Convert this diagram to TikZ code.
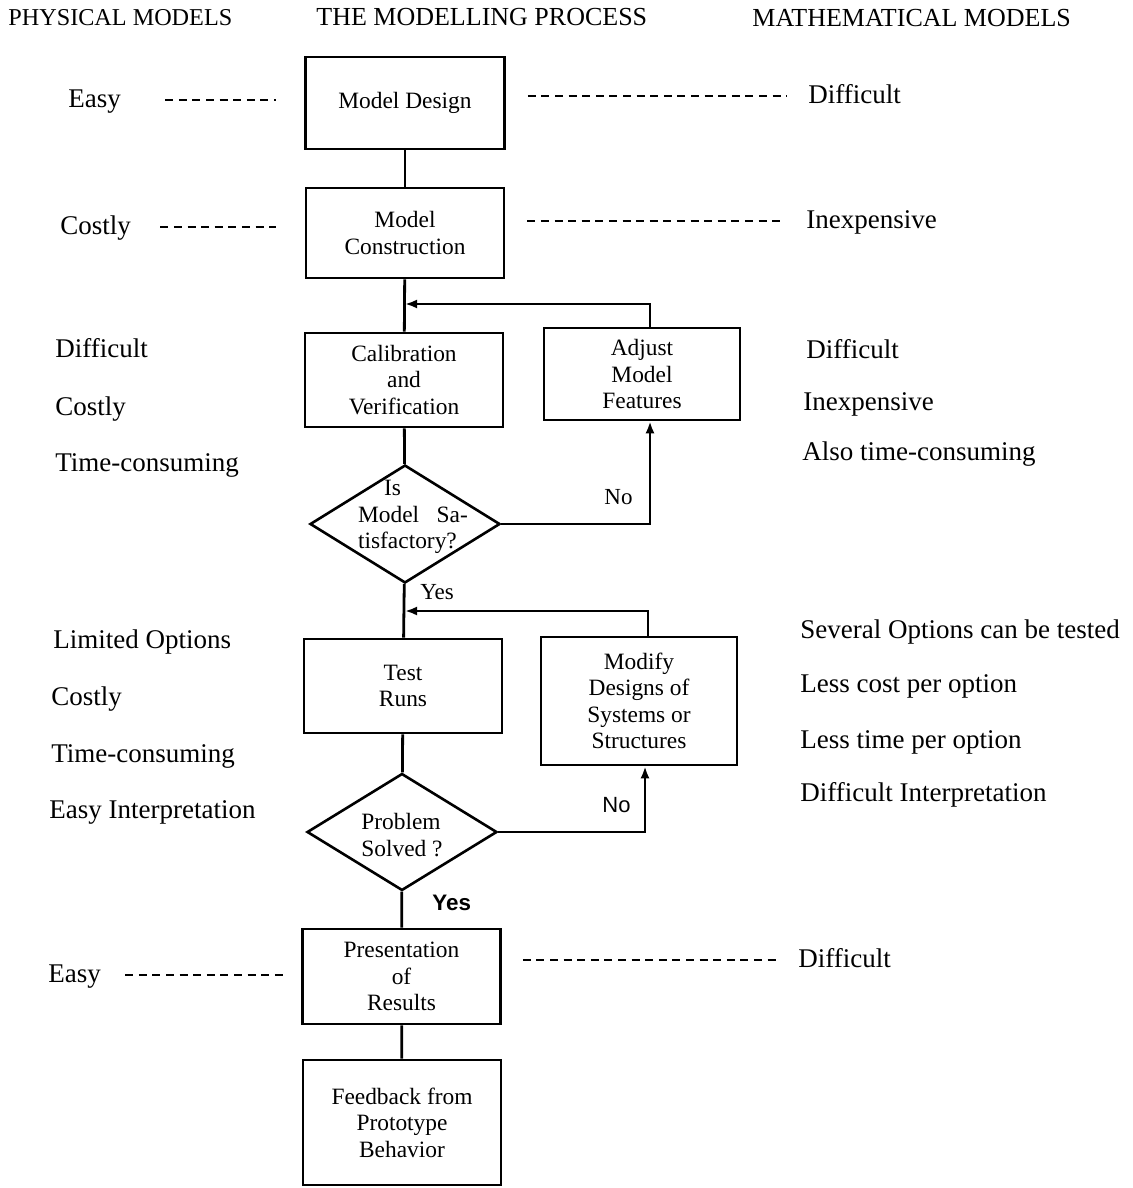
\documentclass[tikz,border=0pt]{standalone}
\usepackage{fontspec}
\setmainfont{Liberation Serif}
\setsansfont{Liberation Sans}
\usetikzlibrary{shapes.geometric,arrows.meta}
\tikzset{
  box/.style={draw, line width=1.3pt, minimum width=99pt, minimum height=46pt,
    align=center, inner sep=2pt, font=\fontsize{11.7}{13.2}\selectfont},
  decision/.style={draw, diamond, line width=1.3pt, minimum width=95pt,
    minimum height=59pt, inner sep=0pt},
  side/.style={anchor=west, inner sep=0pt, text height=1.6ex, text depth=0pt,
    font=\fontsize{13.5}{16}\selectfont},
  head/.style={anchor=west, inner sep=0pt, text height=1.6ex, text depth=0pt,
    font=\fontsize{13}{15}\selectfont},
  answer/.style={anchor=west, inner sep=0pt, text height=1.6ex, text depth=0pt,
    font=\fontsize{11.5}{13}\selectfont},
  flow/.style={line width=1.4pt},
  dashline/.style={line width=1pt, dash pattern=on 4pt off 2.8pt},
  tip/.style={-{Latex[length=6pt,width=4.5pt]}}
}
\begin{document}
\begin{tikzpicture}[x=0.5pt, y=-0.5pt]
\useasboundingbox (0,0) rectangle (1132,1188);

\node[head, font=\fontsize{12.1}{15}\selectfont] (hphys) at (8,18) {PHYSICAL MODELS};
\node[head] (hproc) at (316,18) {THE MODELLING PROCESS};
\node[head] (hmath) at (752,19) {MATHEMATICAL MODELS};

\node[box, minimum width=99.5pt] (design) at (405,103) {Model Design};
\node[box, minimum height=45pt] (construct) at (405,233) {Model\\Construction};
\node[box, minimum height=47pt] (calib) at (404,380) {Calibration\\and\\Verification};
\node[box, minimum width=98pt] (adjust) at (642,374) {Adjust\\Model\\Features};
\node[decision] (sat) at (405,524) {};
\node[align=left, inner sep=0pt, font=\fontsize{11.7}{13.2}\selectfont] (sattext)
  at ([shift={(4pt,3.5pt)}]sat.center) {\hspace*{13pt}Is\\Model\ \ \ Sa-\\tisfactory?};
\node[box, minimum height=47pt] (test) at (403,686) {Test\\Runs};
\node[box, minimum width=98pt, minimum height=64pt] (modify) at (639,701)
  {Modify\\Designs of\\Systems or\\Structures};
\node[decision, minimum height=58.5pt] (solved) at (402,832) {};
\node[align=left, inner sep=0pt, font=\fontsize{11.7}{13.2}\selectfont] (solvedtext)
  at ([yshift=-1.5pt]solved.center) {Problem\\Solved ?};
\node[box, minimum height=47.5pt] (present) at (401.5,976.5) {Presentation\\of\\Results};
\node[box, minimum height=62.5pt] (feedback) at (402,1122.5)
  {Feedback from\\Prototype\\Behavior};

\coordinate (joinA) at (405,304);
\coordinate (joinB) at (405,611);

\draw[flow] (design) -- (construct);
\draw[flow] (construct) -- (calib);
\draw[flow] (calib) -- (sat);
\draw[flow] (sat) -- (test);
\draw[flow] (test) -- (solved);
\draw[flow] (solved) -- (present);
\draw[flow] (present) -- (feedback);
\draw[flow, tip] ([xshift=4pt]adjust.north) |- (joinA);
\draw[flow, tip] (sat.east) -| ([xshift=4pt]adjust.south);
\draw[flow, tip] ([xshift=4.5pt]modify.north) |- (joinB);
\draw[flow, tip] (solved.east) -| ([xshift=3pt]modify.south);

\node[answer] (yesA) at (420,592) {Yes};
\node[answer, font=\sffamily\bfseries\fontsize{11.2}{13}\selectfont] (yesB) at (432,903) {Yes};
\node[answer] (noA) at (604,497) {No};
\node[answer, font=\sffamily\fontsize{11}{13}\selectfont] (noB) at (602,805) {No};

\node[side] (easyA) at (68,100) {Easy};
\node[side] (costA) at (60,227) {Costly};
\node[side] (easyB) at (48,975) {Easy};
\node[side] (diffA) at (808,96) {Difficult};
\node[side] (cheapA) at (806,221) {Inexpensive};
\node[side] (diffB) at (798,960) {Difficult};

\foreach \n/\x/\y/\txt in {a/55/350/Difficult, b/55/408/Costly, c/55/464/Time-consuming,
  d/53/641/Limited Options, e/51/698/Costly, f/51/755/Time-consuming,
  g/49/811/Easy Interpretation}
  \node[side] (left\n) at (\x,\y) {\txt};
\foreach \n/\x/\y/\txt in {a/806/351/Difficult, b/803/403/Inexpensive,
  c/802/453/Also time-consuming, d/800/631/Several Options can be tested,
  e/800/685/Less cost per option, f/800/741/Less time per option,
  g/800/794/Difficult Interpretation}
  \node[side] (right\n) at (\x,\y) {\txt};

\draw[dashline] ([xshift=22pt]easyA.east) -- ([xshift=-14pt]easyA.east -| design.west);
\draw[dashline] ([xshift=14.5pt]costA.east) -- ([xshift=-14.5pt]costA.east -| construct.west);
\draw[dashline] ([xshift=12pt]easyB.east) -- ([xshift=-6.5pt]easyB.east -| present.west);
\draw[dashline] ([xshift=11pt]diffA.west -| design.east) -- ([xshift=-10.5pt]diffA.west);
\draw[dashline] ([xshift=11pt]cheapA.west -| construct.east) -- ([xshift=-10.5pt]cheapA.west);
\draw[dashline] ([xshift=10.5pt]diffB.west -| present.east) -- ([xshift=-9pt]diffB.west);
\end{tikzpicture}
\end{document}
